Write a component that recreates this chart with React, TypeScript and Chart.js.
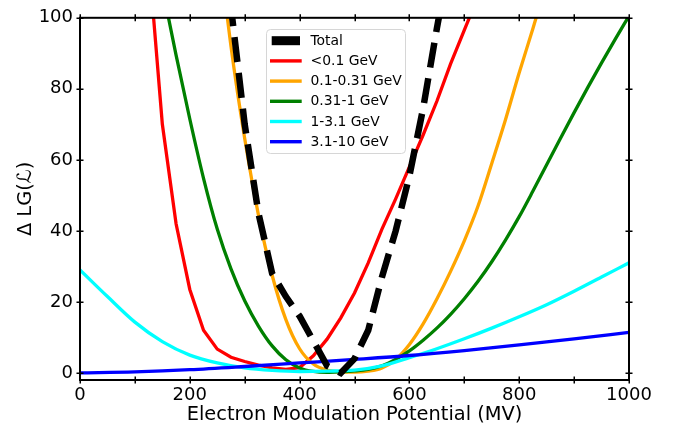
import React, { useEffect, useRef } from 'react';
import { Chart, registerables } from 'chart.js';

Chart.register(...registerables);

// x grid (MV) for the steep curves, step 25
const xFine = [0, 25, 50, 75, 100, 125, 150, 175, 200, 225, 250, 275, 300, 325, 350, 375, 400, 425, 450, 475, 500, 525, 550, 575, 600, 625, 650, 675, 700, 725, 750, 775, 800, 825, 850, 875, 900, 925, 950, 975, 1000];
// x grid for the gentle curves
const xMid = [0, 50, 100, 150, 200, 250, 300, 350, 400, 450, 500, 550, 600, 650, 700, 750, 800, 850, 900, 950, 1000];
const xCoarse = [0, 100, 200, 300, 400, 500, 600, 700, 800, 900, 1000];

const totalY = [null, null, null, null, null, null, null, null, null, null, 145, 103, 70, 45, 28, 21.5, 16, 9, 2, 0, 4, 12, 27, 40, 55.5, 74.5, 97, 118, null, null, null, null, null, null, null, null, null, null, null, null, null];
const redY = [null, null, null, null, null, 117, 70, 42, 23.5, 12, 6.7, 4.4, 3.2, 2.2, 1.4, 1.0, 1.5, 4.8, 9.5, 15.5, 22.5, 31, 40.5, 49, 58, 67, 76.5, 87, 96.5, 106, null, null, null, null, null, null, null, null, null, null, null];
const orangeY = [null, null, null, null, null, null, null, null, null, null, 124, 92, 66, 44.5, 27.5, 15, 6.8, 2.5, 0.8, 0.25, 0.2, 0.5, 1.4, 3.8, 8, 13.8, 20.8, 28.6, 37.2, 47, 59, 71.3, 84.5, 97, 110, null, null, null, null, null, null];
const greenY = [null, null, null, null, null, 128, 108.5, 89.5, 71.5, 54.8, 40.5, 29.3, 20.3, 13.2, 7.6, 3.7, 1.4, 0.4, 0.15, 0.3, 0.55, 1.0, 2.0, 3.8, 6.2, 9.2, 12.6, 16.5, 20.9, 25.8, 31.3, 37.4, 44, 51.2, 58.6, 66, 73.3, 80.4, 87.3, 94, 100.5];
const cyanY = [29, 21.5, 14.3, 8.8, 5, 2.8, 1.4, 0.7, 0.4, 0.5, 0.8, 2, 4.3, 6.8, 9.6, 12.6, 15.8, 19.2, 23, 27, 31];
const blueY = [0, 0.3, 0.9, 1.8, 2.8, 3.8, 4.9, 6.3, 7.9, 9.6, 11.4];

const seriesLabels = ['Total', '<0.1 GeV', '0.1-0.31 GeV', '0.31-1 GeV', '1-3.1 GeV', '3.1-10 GeV'];
const seriesColors = ['#000000', '#ff0000', '#ffa500', '#008000', '#00ffff', '#0000ff'];

const xTickLabels = [0, 200, 400, 600, 800, 1000];
const xMinorTicks = [0, 100, 200, 300, 400, 500, 600, 700, 800, 900, 1000];
const yTickLabels = [0, 20, 40, 60, 80, 100];

const pts = (xs: number[], ys: (number | null)[]) => xs.map((x, i) => ({ x, y: ys[i] }));

const FONT = '"DejaVu Sans", "Liberation Sans", sans-serif';

const framePlugin = {
  id: 'frameAndLegend',
  afterDraw(chart: any) {
    const { ctx, chartArea: a, scales } = chart;
    const x = scales.x;
    const y = scales.y;
    ctx.save();
    // frame
    ctx.strokeStyle = '#000';
    ctx.lineWidth = 2;
    ctx.strokeRect(a.left, a.top, a.right - a.left, a.bottom - a.top);
    // in-out ticks
    ctx.lineWidth = 1.5;
    ctx.beginPath();
    for (const v of xMinorTicks) {
      const px = Math.round(x.getPixelForValue(v)) + 0.25;
      ctx.moveTo(px, a.bottom - 3.5);
      ctx.lineTo(px, a.bottom + 3.5);
      ctx.moveTo(px, a.top - 3.5);
      ctx.lineTo(px, a.top + 3.5);
    }
    for (const v of yTickLabels) {
      const py = Math.round(y.getPixelForValue(v)) + 0.25;
      ctx.moveTo(a.left - 3.5, py);
      ctx.lineTo(a.left + 3.5, py);
      ctx.moveTo(a.right - 3.5, py);
      ctx.lineTo(a.right + 3.5, py);
    }
    ctx.stroke();

    // legend
    const bx = 266.5, by = 29.5, bw = 139, bh = 124, r = 4;
    ctx.beginPath();
    ctx.moveTo(bx + r, by);
    ctx.lineTo(bx + bw - r, by);
    ctx.arcTo(bx + bw, by, bx + bw, by + r, r);
    ctx.lineTo(bx + bw, by + bh - r);
    ctx.arcTo(bx + bw, by + bh, bx + bw - r, by + bh, r);
    ctx.lineTo(bx + r, by + bh);
    ctx.arcTo(bx, by + bh, bx, by + bh - r, r);
    ctx.lineTo(bx, by + r);
    ctx.arcTo(bx, by, bx + r, by, r);
    ctx.closePath();
    ctx.fillStyle = 'rgba(255,255,255,0.8)';
    ctx.fill();
    ctx.strokeStyle = '#d6d6d6';
    ctx.lineWidth = 1;
    ctx.stroke();

    ctx.font = `13.9px ${FONT}`;
    ctx.textBaseline = 'middle';
    ctx.textAlign = 'left';
    chart.data.datasets.forEach((ds: any, i: number) => {
      const cy = 40.7 + i * 20.2;
      ctx.fillStyle = ds.borderColor;
      if (i === 0) {
        ctx.fillRect(271.7, cy - 4.5, 28.3, 9);
      } else {
        ctx.fillRect(270, cy - 1.7, 31.7, 3.4);
      }
      ctx.fillStyle = '#000';
      ctx.fillText(ds.label, 310.5, cy + 0.5);
    });
    ctx.restore();
  },
};

export default function App() {
  const ref = useRef<HTMLCanvasElement | null>(null);
  useEffect(() => {
    if (!ref.current) return;
    const common = { pointRadius: 0, pointHoverRadius: 0, fill: false, clip: 0, spanGaps: false };
    const chart = new Chart(ref.current, {
      type: 'line',
      data: {
        datasets: [
          { ...common, label: seriesLabels[0], data: pts(xFine, totalY), borderColor: seriesColors[0], backgroundColor: seriesColors[0], borderWidth: 6.5, borderDash: [25, 11], borderCapStyle: 'butt', borderJoinStyle: 'miter', tension: 0, order: 0 },
          { ...common, label: seriesLabels[1], data: pts(xFine, redY), borderColor: seriesColors[1], backgroundColor: seriesColors[1], borderWidth: 3.3, tension: 0, order: 5 },
          { ...common, label: seriesLabels[2], data: pts(xFine, orangeY), borderColor: seriesColors[2], backgroundColor: seriesColors[2], borderWidth: 3.3, cubicInterpolationMode: 'monotone', order: 4 },
          { ...common, label: seriesLabels[3], data: pts(xFine, greenY), borderColor: seriesColors[3], backgroundColor: seriesColors[3], borderWidth: 3.3, cubicInterpolationMode: 'monotone', order: 3 },
          { ...common, label: seriesLabels[4], data: pts(xMid, cyanY), borderColor: seriesColors[4], backgroundColor: seriesColors[4], borderWidth: 3.3, cubicInterpolationMode: 'monotone', order: 2 },
          { ...common, label: seriesLabels[5], data: pts(xCoarse, blueY), borderColor: seriesColors[5], backgroundColor: seriesColors[5], borderWidth: 3.3, cubicInterpolationMode: 'monotone', order: 1 },
        ],
      },
      options: {
        responsive: false,
        animation: false,
        devicePixelRatio: 1,
        events: [],
        layout: { padding: { left: 0, right: 49, top: 16, bottom: 0 } },
        plugins: { legend: { display: false }, tooltip: { enabled: false } },
        scales: {
          x: {
            type: 'linear',
            min: 0,
            max: 1000,
            afterBuildTicks: (s: any) => { s.ticks = xTickLabels.map((v) => ({ value: v })); },
            afterFit: (s: any) => { s.height = 51; },
            grid: { display: false, drawTicks: false },
            border: { display: false },
            ticks: { color: '#000', font: { family: FONT, size: 18 }, padding: 5, maxRotation: 0, autoSkip: false, callback: (v: any) => String(v) },
            title: { display: true, text: 'Electron Modulation Potential (MV)', color: '#000', font: { family: FONT, size: 19.4 }, padding: { top: 0, bottom: 4 } },
          },
          y: {
            type: 'linear',
            min: -2,
            max: 100,
            afterBuildTicks: (s: any) => { s.ticks = yTickLabels.map((v) => ({ value: v })); },
            afterFit: (s: any) => { s.width = 80; },
            grid: { display: false, drawTicks: false },
            border: { display: false },
            ticks: { color: '#000', font: { family: FONT, size: 18 }, padding: 7, autoSkip: false, callback: (v: any) => String(v) },
            title: { display: true, text: 'Δ LG(ℒ)', color: '#000', font: { family: FONT, size: 19.4 }, padding: { top: 14, bottom: 0 } },
          },
        },
      },
      plugins: [framePlugin],
    } as any);
    return () => chart.destroy();
  }, []);
  return (
    <div style={{ position: 'fixed', left: 0, top: 0, width: 678, height: 431, background: '#fff' }}>
      <canvas ref={ref} width={678} height={431} style={{ display: 'block', width: 678, height: 431 }} />
    </div>
  );
}
